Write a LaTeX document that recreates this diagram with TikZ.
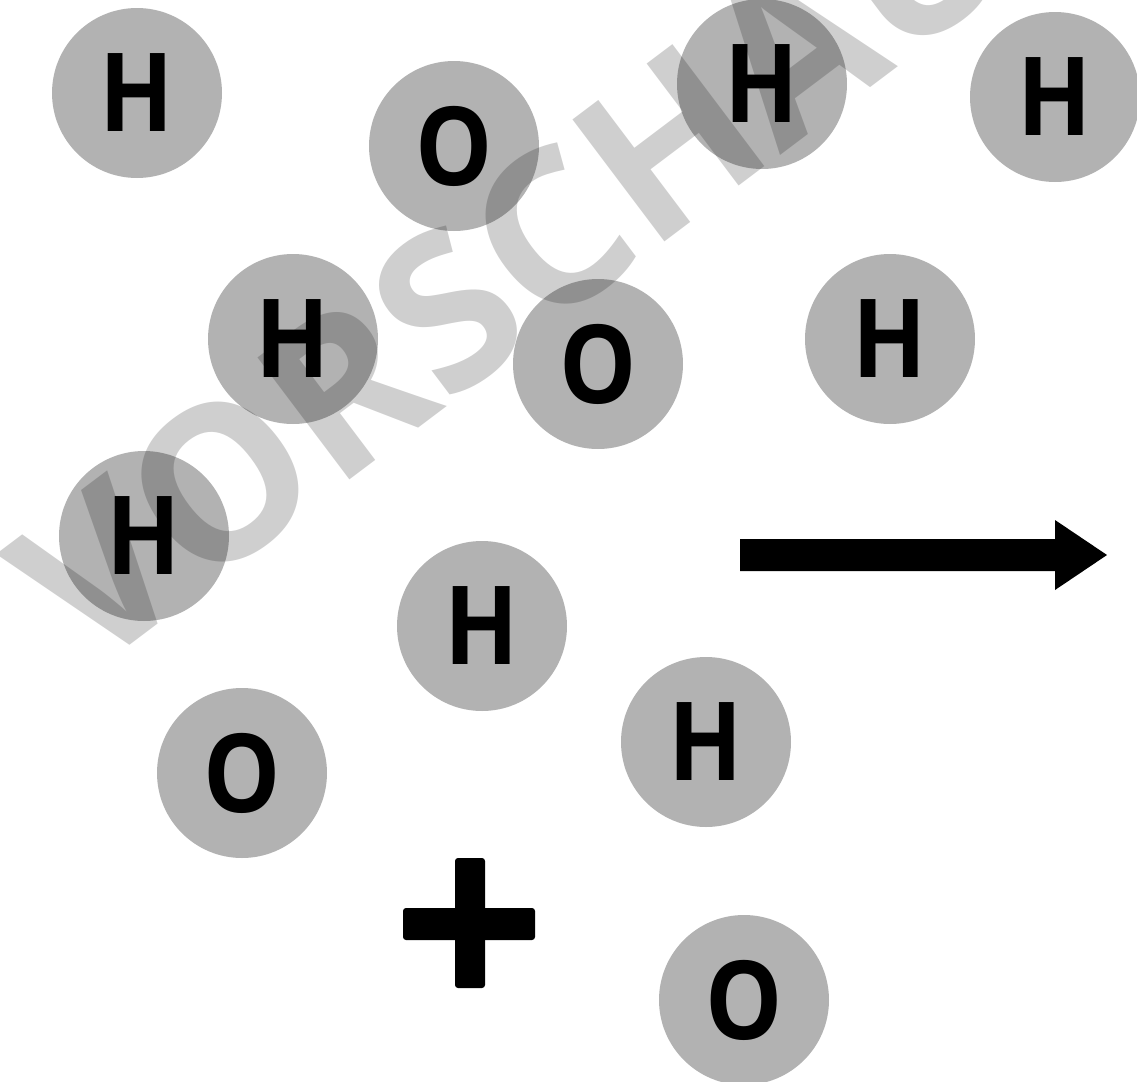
\documentclass[tikz,border=0pt]{standalone}
\usepackage{fontspec}
\setmainfont{Open Sans}
\newfontfamily\atomfont[FakeStretch=0.89]{Open Sans}
\newfontfamily\wmfont{Open Sans}
\definecolor{atomgray}{HTML}{B2B2B2}
\tikzset{
  atom/.style={circle, fill=atomgray, minimum size=85pt, inner sep=0pt,
    font=\atomfont\fontsize{54.6}{60}\selectfont\bfseries, text=black},
  barpart/.style={fill=black, rounded corners=1.5pt},
  wmark/.style={font=\wmfont\fontsize{107}{110}\selectfont\bfseries, text=black, text opacity=0.19, rotate=37, inner sep=0pt}
}
\begin{document}
\begin{tikzpicture}[x=0.5pt,y=-0.5pt]
\useasboundingbox (0,0) rectangle (1137,1082);
\clip (0,0) rectangle (1137,1082);
\node[atom] (a1) at (137,93) {H};
\node[atom] (a2) at (454,146) {O};
\node[atom] (a3) at (762,84) {H};
\node[atom] (a4) at (1055,97) {H};
\node[atom] (a5) at (293,339) {H};
\node[atom] (a6) at (598,364) {O};
\node[atom] (a7) at (890,339) {H};
\node[atom] (a8) at (144,536) {H};
\node[atom] (a9) at (482,626) {H};
\node[atom] (a10) at (706,742) {H};
\node[atom] (a11) at (242,773) {O};
\node[atom] (a12) at (744,1000) {O};
% plus sign
\fill[barpart] (403,908) rectangle (535,940);
\fill[barpart] (455,858) rectangle (485,988);
% reaction arrow
\fill[black] (740,539) -- (1055,539) -- (1055,520) -- (1107,555) -- (1055,590) -- (1055,571) -- (740,571) -- cycle;
% watermark
\node[wmark] (wm) at (512,262) {VORSCHAU};
\end{tikzpicture}
\end{document}
